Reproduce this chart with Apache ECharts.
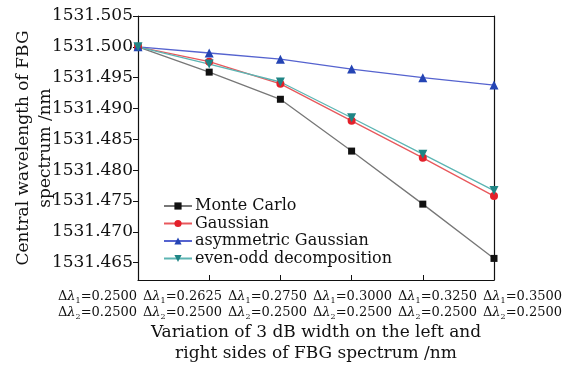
<!DOCTYPE html>
<html>
<head>
<meta charset="utf-8">
<script src="https://cdn.jsdelivr.net/npm/echarts@6/dist/echarts.min.js"></script>
<style>
  html, body { margin: 0; padding: 0; background: #fff; }
  #chart { width: 565px; height: 368px; }
</style>
</head>
<body>
<div id="chart"></div>
<script>
// x categories: (Δλ1, Δλ2) pairs
const dl1 = ['0.2500', '0.2625', '0.2750', '0.3000', '0.3250', '0.3500'];
const dl2 = ['0.2500', '0.2500', '0.2500', '0.2500', '0.2500', '0.2500'];

// central wavelength (nm)
const monteCarlo = [1531.5000, 1531.4959, 1531.4915, 1531.4831, 1531.4745, 1531.4657];
const gaussian   = [1531.5000, 1531.4976, 1531.4940, 1531.4880, 1531.4820, 1531.4758];
const asymGauss  = [1531.5000, 1531.4990, 1531.4980, 1531.4964, 1531.4950, 1531.4938];
const evenOdd    = [1531.5000, 1531.4972, 1531.4943, 1531.4885, 1531.4826, 1531.4767];

const FONT = '"DejaVu Serif", serif';
const cats = dl1.map((v, i) => i);

const chart = echarts.init(document.getElementById('chart'));

const mkSeries = (name, data, symbol, size, markColor, lineColor, rotate) => ({
  name,
  type: 'line',
  data,
  symbol,
  symbolSize: size,
  symbolRotate: rotate || 0,
  itemStyle: { color: markColor },
  lineStyle: { color: lineColor, width: 1.3 },
  emphasis: { disabled: true },
});

chart.setOption({
  animation: false,
  textStyle: { fontFamily: FONT },
  grid: [
    { left: 138, right: 71, top: 16, bottom: 88, outerBoundsMode: 'none' },
    // wider invisible grid just to spread the two-line tick labels
    { left: 55, right: 0, top: 16, bottom: 88, outerBoundsMode: 'none' },
  ],
  legend: {
    orient: 'vertical',
    left: 158,
    top: 193,
    itemWidth: 28,
    itemHeight: 9,
    itemGap: 1.5,
    textStyle: { fontFamily: FONT, fontSize: 16, color: '#111', padding: [0, 0, 0, -2] },
    data: ['Monte Carlo', 'Gaussian', 'asymmetric Gaussian', 'even-odd decomposition'],
  },
  xAxis: [
    {
      type: 'category',
      gridIndex: 0,
      data: cats,
      boundaryGap: false,
      axisLine: { lineStyle: { color: '#111', width: 1.2 } },
      axisTick: { inside: true, length: 5, lineStyle: { color: '#111' } },
      axisLabel: { show: false },
      splitLine: { show: false },
      name: 'Variation of 3 dB width on the left and\nright sides of FBG spectrum /nm',
      nameLocation: 'middle',
      nameGap: 42,
      nameTextStyle: { fontFamily: FONT, fontSize: 17, color: '#111', lineHeight: 21 },
    },
    {
      type: 'category',
      gridIndex: 0,
      position: 'top',
      data: cats,
      boundaryGap: false,
      axisLine: { lineStyle: { color: '#111', width: 1.2 } },
      axisTick: { show: false },
      axisLabel: { show: false },
    },
    {
      type: 'category',
      gridIndex: 1,
      data: cats,
      boundaryGap: true,
      axisLine: { show: false },
      axisTick: { show: false },
      axisLabel: {
        interval: 0,
        margin: 9,
        formatter: (v, i) =>
          '{d|Δ}{l|λ}{s|1}{n|=' + dl1[i] + '}\n{d|Δ}{l|λ}{s|2}{n|=' + dl2[i] + '}',
        rich: {
          d: { fontFamily: FONT, fontSize: 13, color: '#111', lineHeight: 16 },
          l: { fontFamily: FONT, fontSize: 13, color: '#111', fontStyle: 'italic', lineHeight: 16 },
          s: { fontFamily: FONT, fontSize: 8, color: '#111', verticalAlign: 'bottom', lineHeight: 16, padding: [6, 0, 0, 0] },
          n: { fontFamily: FONT, fontSize: 13, color: '#111', lineHeight: 16 },
        },
      },
    },
  ],
  yAxis: [
    {
      type: 'value',
      gridIndex: 0,
      min: 1531.4622,
      max: 1531.505,
      splitNumber: 8,
      axisLine: { show: true, lineStyle: { color: '#111', width: 1.2 } },
      axisTick: { show: true, length: 5, lineStyle: { color: '#111' } },
      axisLabel: {
        showMinLabel: false,
        margin: 5,
        fontFamily: FONT,
        fontSize: 17,
        color: '#111',
        formatter: v => v.toFixed(3),
      },
      splitLine: { show: false },
      name: 'Central wavelength of FBG\nspectrum /nm',
      nameLocation: 'middle',
      nameRotate: 90,
      nameGap: 81,
      nameMoveOverlap: false,
      nameTextStyle: { fontFamily: FONT, fontSize: 17, color: '#111', lineHeight: 22 },
    },
    {
      type: 'value',
      gridIndex: 0,
      position: 'right',
      min: 1531.4622,
      max: 1531.505,
      axisLine: { show: true, lineStyle: { color: '#111', width: 1.2 } },
      axisTick: { show: false },
      axisLabel: { show: false },
      splitLine: { show: false },
    },
    {
      type: 'value',
      gridIndex: 1,
      show: false,
    },
  ],
  series: [
    mkSeries('Monte Carlo', monteCarlo, 'rect', 7, '#111111', '#777777'),
    mkSeries('Gaussian', gaussian, 'circle', 8, '#e3202a', '#e8585c'),
    mkSeries('asymmetric Gaussian', asymGauss, 'triangle', 9, '#2444b4', '#5563cf'),
    mkSeries('even-odd decomposition', evenOdd, 'triangle', 9, '#1f8585', '#5cb5b3', 180),
  ],
});
</script>
</body>
</html>
